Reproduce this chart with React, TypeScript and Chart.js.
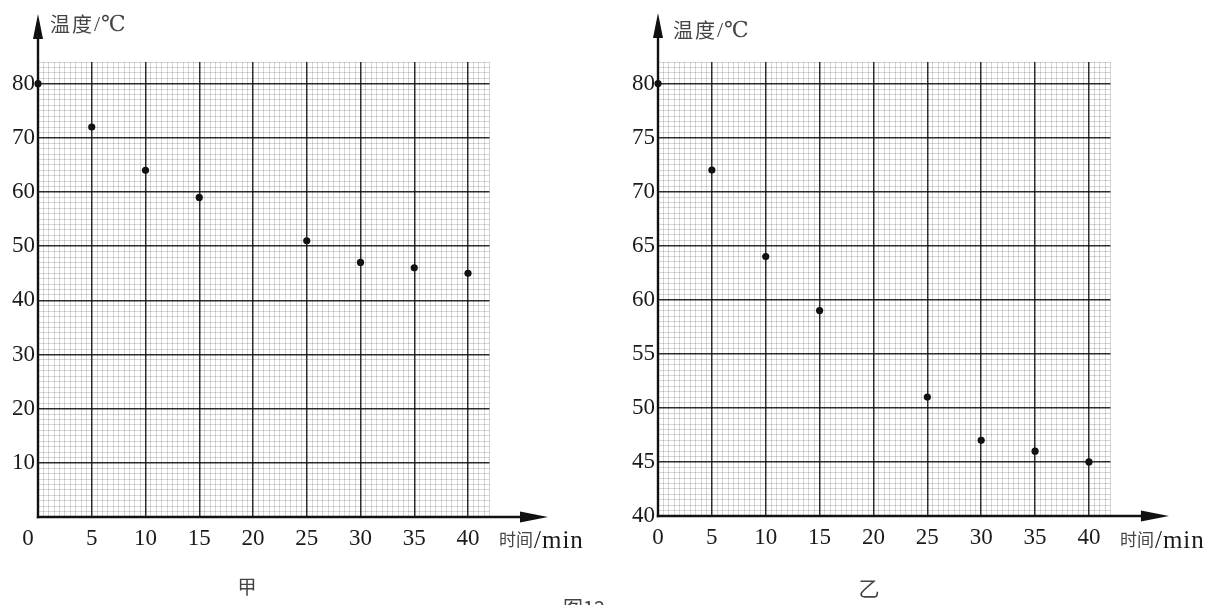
import React, { useEffect, useRef } from 'react';
import { Chart, registerables } from 'chart.js';

Chart.register(...registerables);

// ---------------- data ----------------
const minutes = [0, 5, 10, 15, 25, 30, 35, 40];
const tempJia = [80, 72, 64, 59, 51, 47, 46, 45];
const tempYi = [80, 72, 64, 59, 51, 47, 46, 45];
const xTickLabels = [0, 5, 10, 15, 20, 25, 30, 35, 40];
const yTickLabelsJia = [10, 20, 30, 40, 50, 60, 70, 80];
const yTickLabelsYi = [40, 45, 50, 55, 60, 65, 70, 75, 80];
const yAxisTitleCJK = '温度';
const yAxisTitleUnit = '/℃';
const xAxisTitleCJK = '时间';
const xAxisTitleUnit = '/min';
const panelNames = ['甲', '乙'];
const figureCaption = '图12';

// ---------------- styles ----------------
const SERIF = '"Liberation Serif", "DejaVu Serif", serif';
const CJK = '"Noto Sans CJK SC", "Noto Sans CJK JP", sans-serif';
const MAJOR = 'rgba(0,0,0,0.82)';
const MINOR = 'rgba(0,0,0,0.16)';
const AXIS = '#111111';
const TEXT = '#1a1a1a';
const CJK_TEXT = '#444444';
const W = 609;
const H = 605;

type Panel = {
  key: string;
  values: number[];
  yMin: number;
  yMax: number;
  yStep: number;
  yMajor: number;
  yLabels: number[];
  xLabels: number[];
  zeroSeparate: boolean;
  name: string;
  namePos: [number, number];
  nameSize: number;
  titlePos: [number, number];
  caption: boolean;
  yAxisWidth: number;
  xAxisHeight: number;
  padRight: number;
  padTop: number;
  yArrowTip: number;
};

const panels: Panel[] = [
  {
    key: 'jia',
    values: tempJia,
    yMin: 0,
    yMax: 84,
    yStep: 1,
    yMajor: 10,
    yLabels: yTickLabelsJia,
    xLabels: xTickLabels.filter((v) => v !== 0),
    zeroSeparate: true,
    name: panelNames[0],
    namePos: [247, 587],
    nameSize: 19,
    titlePos: [50, 24],
    caption: true,
    yAxisWidth: 38,
    xAxisHeight: 88,
    padRight: 119.5,
    padTop: 62,
    yArrowTip: 14,
  },
  {
    key: 'yi',
    values: tempYi,
    yMin: 40,
    yMax: 82,
    yStep: 0.5,
    yMajor: 5,
    yLabels: yTickLabelsYi,
    xLabels: xTickLabels,
    zeroSeparate: false,
    name: panelNames[1],
    namePos: [260, 588],
    nameSize: 21,
    titlePos: [64, 30],
    caption: false,
    yAxisWidth: 49,
    xAxisHeight: 89,
    padRight: 107.5,
    padTop: 62,
    yArrowTip: 13,
  },
];

function decorPlugin(p: Panel) {
  return {
    id: 'decor_' + p.key,
    beforeDatasetsDraw(chart: any) {
      const { ctx } = chart;
      const x = chart.scales.x;
      const y = chart.scales.y;
      const ox = x.getPixelForValue(0);
      const oy = y.getPixelForValue(p.yMin);
      const xTip = x.getPixelForValue(40) + 80;
      ctx.save();
      ctx.strokeStyle = AXIS;
      ctx.fillStyle = AXIS;
      ctx.lineWidth = 2.4;
      ctx.beginPath();
      ctx.moveTo(ox, oy + 1.2);
      ctx.lineTo(ox, p.yArrowTip + 20);
      ctx.stroke();
      ctx.beginPath();
      ctx.moveTo(ox - 1.2, oy);
      ctx.lineTo(xTip - 20, oy);
      ctx.stroke();
      // y arrowhead
      ctx.beginPath();
      ctx.moveTo(ox, p.yArrowTip);
      ctx.lineTo(ox - 5, p.yArrowTip + 25);
      ctx.lineTo(ox + 5, p.yArrowTip + 25);
      ctx.closePath();
      ctx.fill();
      // x arrowhead
      ctx.beginPath();
      ctx.moveTo(xTip, oy);
      ctx.lineTo(xTip - 28, oy - 5.5);
      ctx.lineTo(xTip - 28, oy + 5.5);
      ctx.closePath();
      ctx.fill();
      ctx.restore();
    },
    afterDraw(chart: any) {
      const { ctx } = chart;
      const x = chart.scales.x;
      const ox = x.getPixelForValue(0);
      const x40 = x.getPixelForValue(40);
      ctx.save();
      ctx.textBaseline = 'middle';
      ctx.textAlign = 'left';
      // y axis title
      let tx = p.titlePos[0];
      const ty = p.titlePos[1];
      ctx.fillStyle = CJK_TEXT;
      ctx.font = `20px ${CJK}`;
      (ctx as any).letterSpacing = '2px';
      ctx.fillText(yAxisTitleCJK, tx, ty);
      tx += ctx.measureText(yAxisTitleCJK).width;
      (ctx as any).letterSpacing = '1px';
      ctx.font = `22px ${SERIF}`;
      ctx.fillText(yAxisTitleUnit, tx, ty + 1);
      // x axis title
      let xx = x40 + 31;
      const xy = 540;
      (ctx as any).letterSpacing = '0px';
      ctx.font = `17px ${CJK}`;
      ctx.fillStyle = CJK_TEXT;
      ctx.fillText(xAxisTitleCJK, xx, xy);
      xx += ctx.measureText(xAxisTitleCJK).width + 1;
      ctx.font = `25px ${SERIF}`;
      ctx.fillStyle = TEXT;
      (ctx as any).letterSpacing = '1px';
      ctx.fillText(xAxisTitleUnit, xx, xy + 1);
      (ctx as any).letterSpacing = '0px';
      // separate origin label
      if (p.zeroSeparate) {
        ctx.textAlign = 'center';
        ctx.font = `23px ${SERIF}`;
        ctx.fillStyle = TEXT;
        ctx.fillText(String(xTickLabels[0]), ox - 10, 539);
      }
      // panel name
      ctx.textAlign = 'center';
      ctx.fillStyle = CJK_TEXT;
      ctx.font = `${p.nameSize}px ${CJK}`;
      ctx.fillText(p.name, p.namePos[0], p.namePos[1]);
      if (p.caption) {
        ctx.textAlign = 'left';
        ctx.textBaseline = 'top';
        ctx.font = `20px ${CJK}`;
        ctx.fillText(figureCaption, 563, 598);
      }
      ctx.restore();
    },
  };
}

function buildConfig(p: Panel): any {
  const isMajorX = (v: number) => Math.abs(v % 5) < 1e-9;
  const isMajorY = (v: number) => Math.abs(v % p.yMajor) < 1e-9;
  return {
    type: 'scatter',
    data: {
      datasets: [
        {
          data: minutes.map((m, i) => ({ x: m, y: p.values[i] })),
          pointRadius: 3.6,
          pointBackgroundColor: '#111',
          pointBorderWidth: 0,
          showLine: false,
          clip: false,
        },
      ],
    },
    options: {
      responsive: false,
      animation: false,
      devicePixelRatio: 1,
      events: [],
      layout: { padding: { left: 0, top: p.padTop, right: p.padRight, bottom: 0 } },
      plugins: {
        legend: { display: false },
        tooltip: { enabled: false },
        title: { display: false },
      },
      scales: {
        x: {
          type: 'linear',
          position: 'bottom',
          min: 0,
          max: 42,
          ticks: {
            stepSize: 0.5,
            autoSkip: false,
            maxRotation: 0,
            minRotation: 0,
            padding: 8,
            color: TEXT,
            font: { family: SERIF, size: 23 },
            callback: (v: number) => (p.xLabels.includes(v) ? String(v) : ''),
          },
          grid: {
            drawTicks: false,
            color: (c: any) => (isMajorX(c.tick.value) ? MAJOR : MINOR),
            lineWidth: (c: any) => (isMajorX(c.tick.value) ? 1.5 : 1),
          },
          border: { display: false },
          afterFit: (s: any) => {
            s.height = p.xAxisHeight;
          },
        },
        y: {
          type: 'linear',
          position: 'left',
          min: p.yMin,
          max: p.yMax,
          ticks: {
            stepSize: p.yStep,
            autoSkip: false,
            padding: 3,
            color: TEXT,
            font: { family: SERIF, size: 23 },
            callback: (v: number) => (p.yLabels.includes(v) ? String(v) : ''),
          },
          grid: {
            drawTicks: false,
            color: (c: any) => (isMajorY(c.tick.value) ? MAJOR : MINOR),
            lineWidth: (c: any) => (isMajorY(c.tick.value) ? 1.5 : 1),
          },
          border: { display: false },
          afterFit: (s: any) => {
            s.width = p.yAxisWidth;
          },
        },
      },
    },
    plugins: [decorPlugin(p)],
  };
}

function PanelChart({ panel, left }: { panel: Panel; left: number }) {
  const ref = useRef<HTMLCanvasElement>(null);
  useEffect(() => {
    if (!ref.current) return;
    const chart = new Chart(ref.current, buildConfig(panel));
    return () => chart.destroy();
  }, [panel]);
  return (
    <canvas
      ref={ref}
      width={W}
      height={H}
      style={{ position: 'absolute', left, top: 0, width: W, height: H }}
    />
  );
}

export default function App() {
  return (
    <div
      style={{
        position: 'fixed',
        left: 0,
        top: 0,
        width: 1218,
        height: 605,
        background: '#ffffff',
        overflow: 'hidden',
      }}
    >
      <PanelChart panel={panels[0]} left={0} />
      <PanelChart panel={panels[1]} left={W} />
    </div>
  );
}
